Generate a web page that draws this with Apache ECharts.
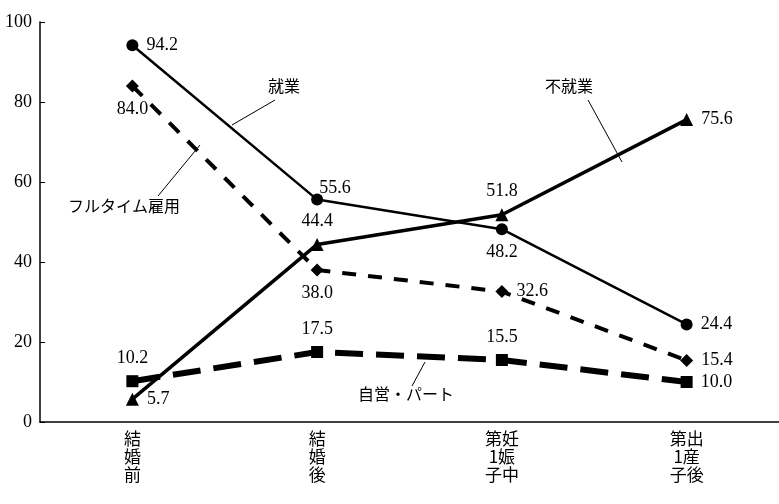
<!DOCTYPE html>
<html>
<head>
<meta charset="utf-8">
</head>
<body style="margin:0">
<div id="main" style="width: 779px;height:504px;"></div>
<script src="https://cdn.jsdelivr.net/npm/echarts@6/dist/echarts.min.js"></script>
<script type="text/javascript">
    // 区分
    var categories = ['結\n婚\n前', '結\n婚\n後', '第妊\n1娠\n子中', '第出\n1産\n子後'];
    var yTicks = [0, 20, 40, 60, 80, 100];
    var shugyo = [94.2, 55.6, 48.2, 24.4];
    var fushugyo = [5.7, 44.4, 51.8, 75.6];
    var fulltime = [84.0, 38.0, 32.6, 15.4];
    var jiei = [10.2, 17.5, 15.5, 10.0];

    var numFont = {fontFamily: 'Liberation Serif', fontSize: 18, color: '#000'};
    var jpFont = 'Noto Sans CJK JP';

    function labels(arr, pos) {
        return arr.map(function (v, i) {
            return {value: v, label: {show: true, position: pos[i], distance: 8,
                formatter: v.toFixed(1), fontFamily: numFont.fontFamily, fontSize: numFont.fontSize, color: '#000'}};
        });
    }

    var myChart = echarts.init(document.getElementById('main'));
    var option = {
        animation: false,
        backgroundColor: '#fff',
        grid: {left: 40, right: 0, top: 22, bottom: 82},
        xAxis: {
            type: 'category',
            data: categories,
            boundaryGap: true,
            axisLine: {lineStyle: {color: '#000', width: 1.5}},
            axisTick: {show: false},
            axisLabel: {color: '#000', fontFamily: jpFont, fontSize: 17, lineHeight: 18, margin: 8}
        },
        yAxis: {
            type: 'value', min: 0, max: 100, interval: 20,
            splitLine: {show: false},
            axisLine: {show: true, lineStyle: {color: '#000', width: 1.5}},
            axisTick: {show: true, inside: true, length: 5, lineStyle: {color: '#000'}},
            axisLabel: {color: '#000', fontFamily: 'Liberation Serif', fontSize: 18, margin: 8,
                formatter: function (v) { return yTicks.indexOf(v) >= 0 ? String(v) : ''; }}
        },
        series: [
            {name: '就業', type: 'line', data: labels(shugyo, ['right', 'insideBottomLeft', 'bottom', 'right']),
             symbol: 'circle', symbolSize: 12, itemStyle: {color: '#000'},
             lineStyle: {color: '#000', width: 2.5}},
            {name: '不就業', type: 'line', data: labels(fushugyo, ['right', 'top', 'top', 'right']),
             symbol: 'triangle', symbolSize: 13, itemStyle: {color: '#000'},
             lineStyle: {color: '#000', width: 3.5}},
            {name: 'フルタイム雇用', type: 'line', data: labels(fulltime, ['bottom', 'bottom', 'right', 'right']),
             symbol: 'diamond', symbolSize: 13, itemStyle: {color: '#000'},
             lineStyle: {color: '#000', width: 4, type: [14, 12]}},
            {name: '自営・パート', type: 'line', data: labels(jiei, ['top', 'top', 'top', 'right']),
             symbol: 'rect', symbolSize: 12, itemStyle: {color: '#000'},
             lineStyle: {color: '#000', width: 6, type: [28, 13]}}
        ],
        graphic: [
            {type: 'text', left: 268, top: 78, style: {text: '就業', font: '16px "Noto Sans CJK JP"', fill: '#000'}},
            {type: 'line', shape: {x1: 275, y1: 100, x2: 232, y2: 125}, style: {stroke: '#000', lineWidth: 1}},
            {type: 'text', left: 545, top: 78, style: {text: '不就業', font: '16px "Noto Sans CJK JP"', fill: '#000'}},
            {type: 'line', shape: {x1: 588, y1: 100, x2: 622, y2: 162}, style: {stroke: '#000', lineWidth: 1}},
            {type: 'text', left: 68, top: 198, style: {text: 'フルタイム雇用', font: '16px "Noto Sans CJK JP"', fill: '#000'}},
            {type: 'line', shape: {x1: 158, y1: 196, x2: 200, y2: 145}, style: {stroke: '#000', lineWidth: 1}},
            {type: 'text', left: 358, top: 386, style: {text: '自営・パート', font: '16px "Noto Sans CJK JP"', fill: '#000'}},
            {type: 'line', shape: {x1: 412, y1: 386, x2: 425, y2: 362}, style: {stroke: '#000', lineWidth: 1}}
        ]
    };
    myChart.setOption(option);
</script>
</body>
</html>
